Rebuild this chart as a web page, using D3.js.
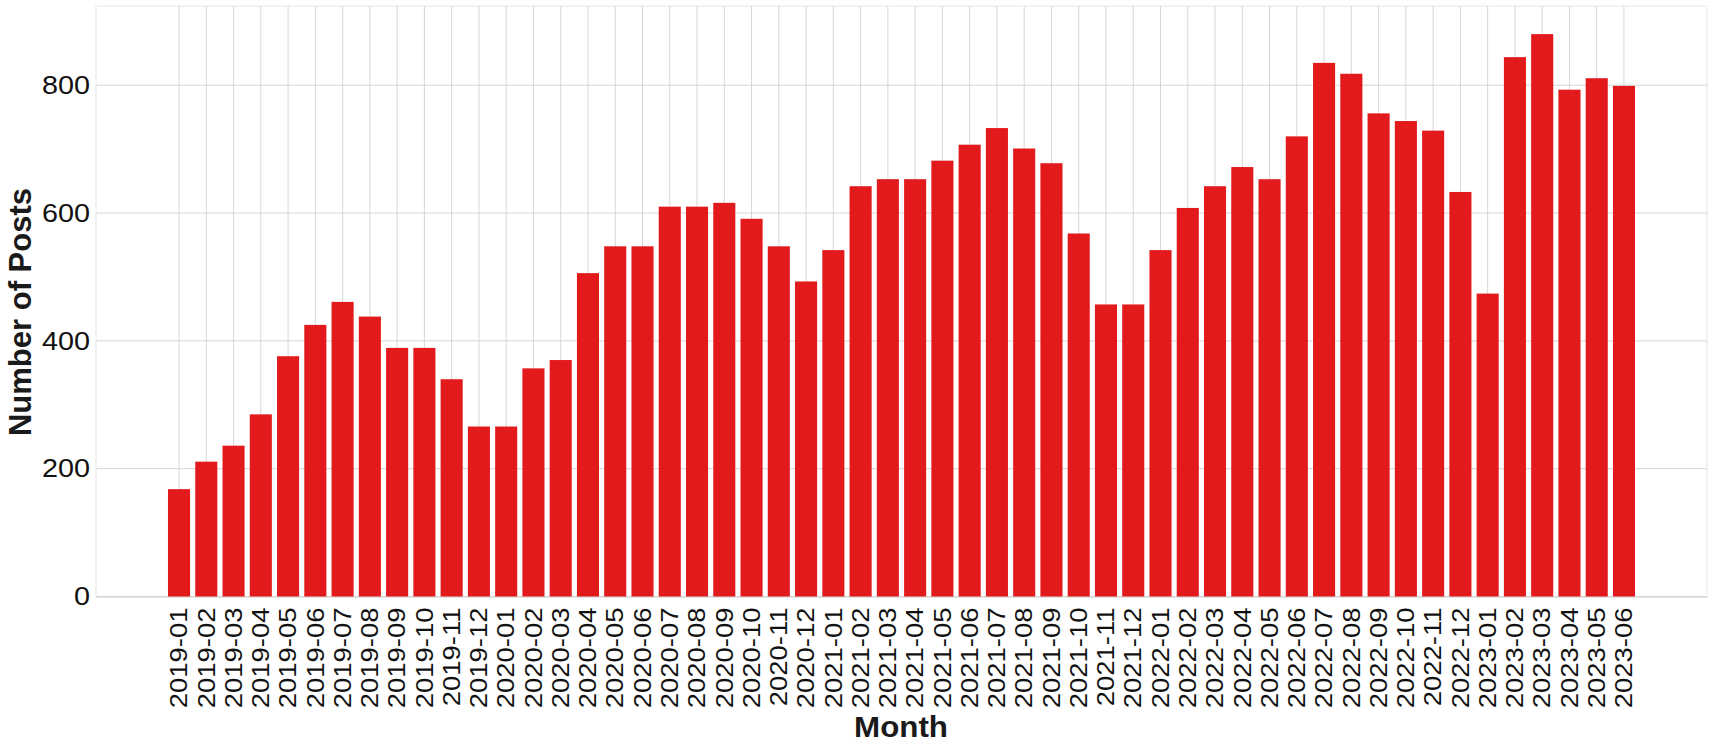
<!DOCTYPE html>
<html>
<head>
<meta charset="utf-8">
<script src="https://cdn.jsdelivr.net/npm/d3@7"></script>
<style>
  html, body { margin: 0; padding: 0; background: #fff; }
  svg { display: block; }
</style>
</head>
<body>
<svg id="chart" width="1713" height="747"></svg>
<script>
const months = [
  "2019-01","2019-02","2019-03","2019-04","2019-05","2019-06","2019-07","2019-08","2019-09","2019-10","2019-11","2019-12",
  "2020-01","2020-02","2020-03","2020-04","2020-05","2020-06","2020-07","2020-08","2020-09","2020-10","2020-11","2020-12",
  "2021-01","2021-02","2021-03","2021-04","2021-05","2021-06","2021-07","2021-08","2021-09","2021-10","2021-11","2021-12",
  "2022-01","2022-02","2022-03","2022-04","2022-05","2022-06","2022-07","2022-08","2022-09","2022-10","2022-11","2022-12",
  "2023-01","2023-02","2023-03","2023-04","2023-05","2023-06"
];
const posts = [
  168, 211, 236, 285, 376, 425, 461, 438, 389, 389, 340, 266,
  266, 357, 370, 506, 548, 548, 610, 610, 616, 591, 548, 493,
  542, 642, 653, 653, 682, 707, 733, 701, 678, 568, 457, 457,
  542, 608, 642, 672, 653, 720, 835, 818, 756, 744, 729, 633,
  474, 844, 880, 793, 811, 799
];
const yTicks = [0, 200, 400, 600, 800];
const xTitle = "Month";
const yTitle = "Number of Posts";

const svg = d3.select("#chart");
const panel = { left: 96, right: 1707, top: 6, bottom: 597.5 };
const FONT = "'Liberation Sans', Arial, sans-serif";

const x = d3.scaleBand()
  .domain(months)
  .range([panel.left, panel.right])
  .paddingInner(0.19)
  .paddingOuter(2.64);

const y = d3.scaleLinear()
  .domain([0, 924])
  .range([596.5, panel.top]);

// vertical gridlines
svg.append("g").selectAll("line")
  .data(months)
  .join("line")
  .attr("x1", d => x(d) + x.bandwidth() / 2)
  .attr("x2", d => x(d) + x.bandwidth() / 2)
  .attr("y1", panel.top)
  .attr("y2", panel.bottom)
  .attr("stroke", "#d6d6d6")
  .attr("stroke-width", 1);

// horizontal gridlines
svg.append("g").selectAll("line")
  .data(yTicks)
  .join("line")
  .attr("x1", panel.left)
  .attr("x2", panel.right)
  .attr("y1", d => y(d))
  .attr("y2", d => y(d))
  .attr("stroke", "#d6d6d6")
  .attr("stroke-width", 1);

// panel border
svg.append("rect")
  .attr("x", panel.left)
  .attr("y", panel.top)
  .attr("width", panel.right - panel.left)
  .attr("height", panel.bottom - panel.top)
  .attr("fill", "none")
  .attr("stroke", "#e6e6e6")
  .attr("stroke-width", 1);

// bars
svg.append("g").selectAll("rect")
  .data(months.map((m, i) => ({ m, v: posts[i] })))
  .join("rect")
  .attr("x", d => x(d.m))
  .attr("width", x.bandwidth())
  .attr("y", d => y(d.v))
  .attr("height", d => y(0) - y(d.v))
  .attr("fill", "#e31a1c");

// y axis labels
const yAxis = d3.axisLeft(y).tickValues(yTicks).tickSize(0).tickPadding(6);
const gy = svg.append("g")
  .attr("transform", `translate(${panel.left},0)`)
  .call(yAxis);
gy.select(".domain").remove();
gy.selectAll("text")
  .attr("font-family", FONT)
  .attr("font-size", "25.5px")
  .attr("fill", "#111")
  .attr("x", 0)
  .attr("transform", "translate(-6,0) scale(1.13,1)");

// x axis labels
const xAxis = d3.axisBottom(x).tickSize(0).tickPadding(0);
const gx = svg.append("g")
  .attr("transform", `translate(0,${panel.bottom})`)
  .call(xAxis);
gx.select(".domain").remove();
gx.selectAll("text")
  .attr("font-family", FONT)
  .attr("font-size", "23.5px")
  .attr("fill", "#111")
  .attr("text-anchor", "end")
  .attr("dy", "0.35em")
  .attr("transform", "translate(0,10) rotate(-90) scale(1.17,1)")
  .attr("x", 0)
  .attr("y", 0);

// axis titles
svg.append("text")
  .attr("transform", "translate(901,737) scale(1.08,1)")
  .attr("text-anchor", "middle")
  .attr("font-family", FONT)
  .attr("font-weight", "bold")
  .attr("font-size", "29px")
  .attr("fill", "#1a1a1a")
  .text(xTitle);

svg.append("text")
  .attr("transform", `translate(31,312) rotate(-90)`)
  .attr("text-anchor", "middle")
  .attr("font-family", FONT)
  .attr("font-weight", "bold")
  .attr("font-size", "31px")
  .attr("fill", "#1a1a1a")
  .text(yTitle);
</script>
</body>
</html>
